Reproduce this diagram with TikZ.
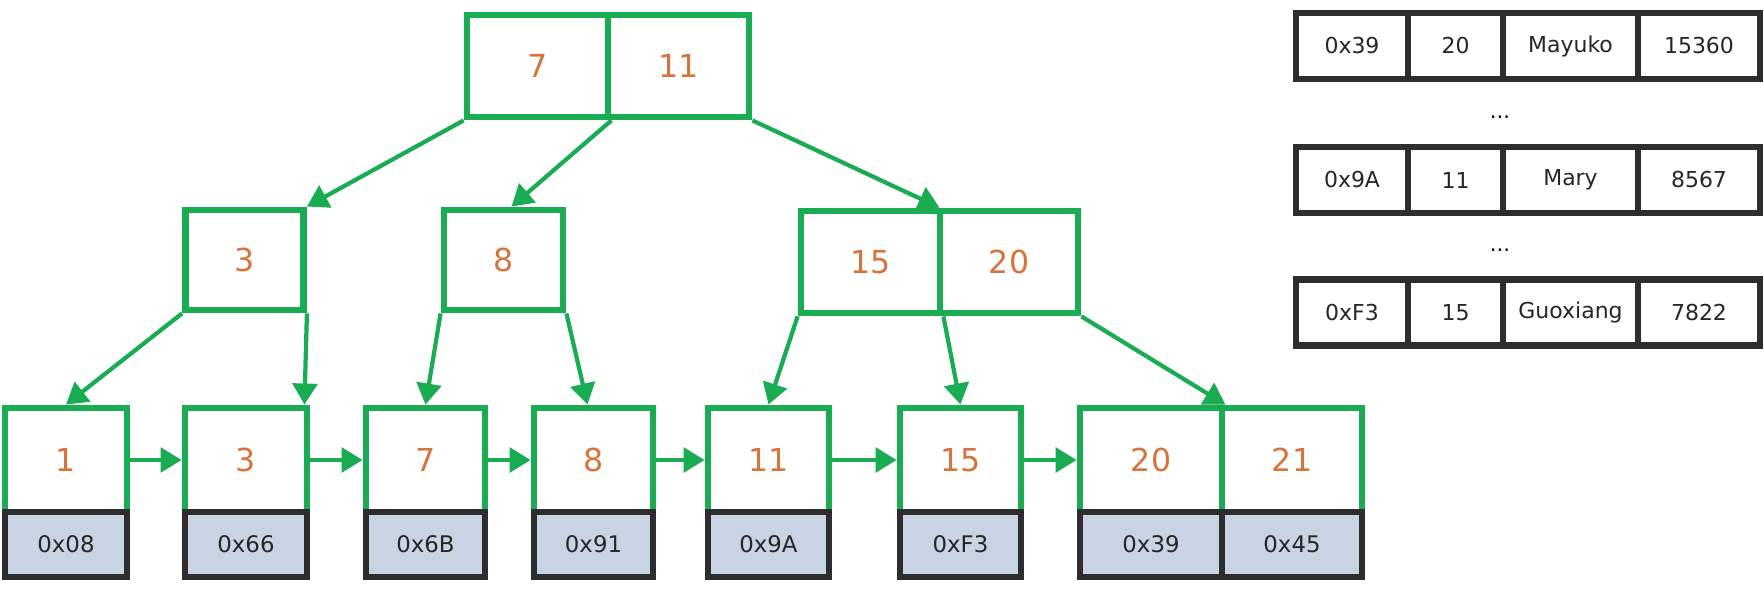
\documentclass[tikz,border=0pt]{standalone}
\usepackage{fontspec}
\setmainfont{DejaVu Sans}
\setsansfont{DejaVu Sans}
\usetikzlibrary{arrows.meta,calc}
\definecolor{treegreen}{RGB}{25,172,82}
\definecolor{keyorange}{RGB}{214,116,62}
\definecolor{addrgray}{RGB}{200,212,228}
\definecolor{darkline}{RGB}{45,45,45}

\begin{document}
\begin{tikzpicture}[x=0.02cm, y=-0.02cm, font=\sffamily, >={Triangle[length=12pt,width=14pt]}]
                \useasboundingbox (0,0) rectangle (1764,601);

                \tikzset{
                    key/.style = {draw=treegreen, line width=3.9pt, fill=white, text=keyorange, font=\sffamily\fontsize{18}{20}\selectfont, inner sep=0pt},
                    addr/.style = {draw=darkline, line width=3.7pt, fill=addrgray, text=black!85, font=\sffamily\fontsize{13}{15}\selectfont, inner sep=0pt, minimum height=1.3cm},
                    cell/.style = {draw=darkline, line width=3.5pt, fill=white, text=black!85, font=\sffamily\fontsize{12.5}{14}\selectfont, inner sep=0pt, minimum height=1.32cm},
                    link/.style = {->, treegreen, line width=2.4pt},
                }

                % root
                \node[key, minimum width=2.82cm, minimum height=2.04cm] (rootL) at (537.5,66) {7};
                \node[key, minimum width=2.82cm, minimum height=2.04cm] (rootR) at (678.5,66) {11};

                % inner level
                \node[key, minimum width=2.36cm, minimum height=2cm] (n3) at (244.5,260) {3};
                \node[key, minimum width=2.38cm, minimum height=2cm] (n8) at (503.5,260) {8};
                \node[key, minimum width=2.78cm, minimum height=2.04cm] (n15) at (870.5,262) {15};
                \node[key, minimum width=2.76cm, minimum height=2.04cm] (n20) at (1009,262) {20};

                % leaves
                \foreach \k/\x/\w/\a in {1/66/2.44/0x08, 3/246/2.44/0x66, 7/425.5/2.38/0x6B, 8/593.5/2.38/0x91,
                                         11/768.5/2.42/0x9A, 15/960.5/2.42/0xF3, 20/1151/2.84/0x39, 21/1292/2.8/0x45}{
                        \node[key, minimum width=\w cm, minimum height=2.08cm] (l\k) at (\x,460) {\k};
                        \node[addr, minimum width=\w cm] (a\k) at (\x,544.5) {\a};
                    }

                \draw[link] (rootL.south west) -- (n3.north east);
                \draw[link] (rootL.south east) -- ($(n8.north)+(8,0)$);
                \draw[link] (rootR.south east) -- ($(n15.north east)+(-4,0)$);
                \draw[link] (n3.south west) -- (l1.north);
                \draw[link] (n3.south east) -- ($(l3.north east)+(-6,0)$);
                \draw[link] (n8.south west) -- (l7.north);
                \draw[link] (n8.south east) -- ($(l8.north)+(-6,0)$);
                \draw[link] (n15.south west) -- (l11.north);
                \draw[link] (n15.south east) -- (l15.north);
                \draw[link] (n20.south east) -- (l20.north east);

                \foreach \a/\b in {1/3, 3/7, 7/8, 8/11, 11/15, 15/20}{
                        \draw[link] (l\a.east) -- (l\b.west);
                    }

                % rows on disk
                \foreach \r/\y/\p/\k/\nm/\v in {1/46/0x39/20/Mayuko/15360, 2/180/0x9A/11/Mary/8567, 3/312.5/0xF3/15/Guoxiang/7822}{
                        \node[cell, minimum width=2.24cm] (row\r p) at (1352,\y) {\p};
                        \node[cell, minimum width=1.9cm] (row\r k) at (1455.5,\y) {\k};
                        \node[cell, minimum width=2.7cm] (row\r n) at (1570.5,\y) {\nm};
                        \node[cell, minimum width=2.44cm] (row\r v) at (1699,\y) {\v};
                    }
                \node[font=\sffamily\fontsize{12}{14}\selectfont] (gap1) at (1500,117) {...};
                \node[font=\sffamily\fontsize{12}{14}\selectfont] (gap2) at (1500,250) {...};

            \end{tikzpicture}
\end{document}
